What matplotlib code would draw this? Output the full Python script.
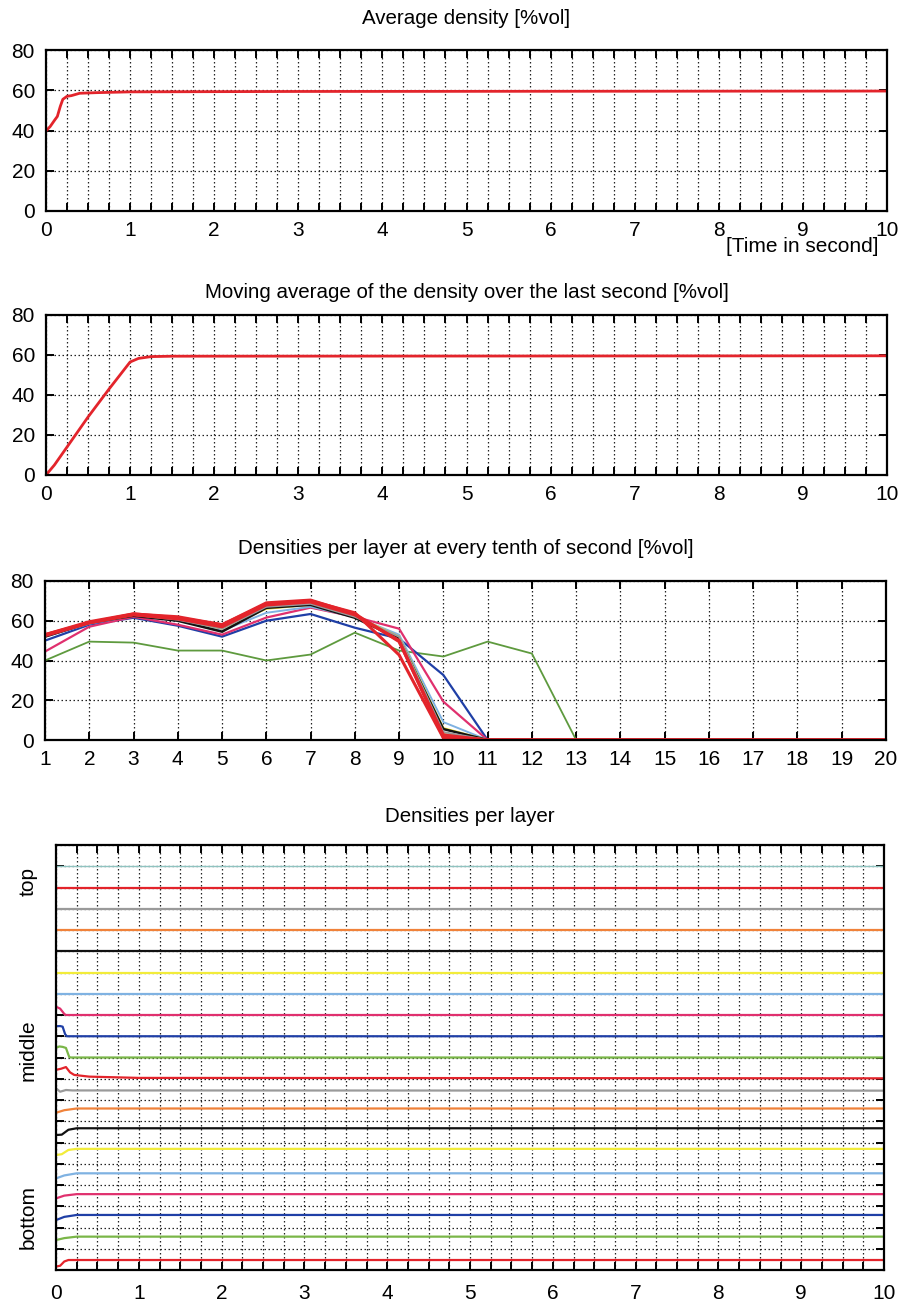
import numpy as np
import matplotlib
matplotlib.use('Agg')
import matplotlib.pyplot as plt
from matplotlib.ticker import MultipleLocator, NullFormatter

plt.rcParams['font.family'] = ['Liberation Sans', 'DejaVu Sans']
plt.rcParams['font.size'] = 15

# --- panel 1: average density
avg_t = [0, 0.05, 0.1, 0.135, 0.17, 0.2, 0.25, 0.3, 0.4, 0.6, 1.0, 3.0, 10.0]
avg_d = [39.8, 42, 45, 47, 52, 55.5, 57, 57.3, 58.5, 58.8, 59.2, 59.4, 59.6]

# --- panel 2: moving average over the last second
mov_t = [0, 0.1, 0.25, 0.5, 0.75, 1.0, 1.1, 1.25, 1.5, 10.0]
mov_d = [0, 5, 14, 29, 43, 56.5, 58.3, 59.2, 59.4, 59.6]

# --- panel 3: densities per layer, snapshots every tenth of second
layers = list(range(1, 21))
snap_colors = ['#5e9a3e', '#1f3fa6', '#e0306e', '#7fb2e2', '#e8df30',
               '#111111', '#f0823a', '#9a9a9a', '#e3242b', '#e3242b', '#e3242b']
snap_widths = [1.3, 1.6, 1.6, 1.4, 1.4, 1.8, 1.6, 1.4, 2.2, 2.2, 2.4]
snapshots = [
    [40, 49.5, 49, 45, 45, 40, 43, 54, 45, 42, 49.5, 43.5, 0, 0, 0, 0, 0, 0, 0, 0],
    [50, 58, 61.5, 57.5, 52, 60, 63.4, 56.5, 51, 32.7, 0, 0, 0, 0, 0, 0, 0, 0, 0, 0],
    [44.5, 57, 62, 58, 53, 61.6, 66.6, 62, 56, 19.3, 0, 0, 0, 0, 0, 0, 0, 0, 0, 0],
    [52, 58.5, 62.5, 60, 55, 64, 67, 62, 53, 9, 0, 0, 0, 0, 0, 0, 0, 0, 0, 0],
    [52.5, 59, 63, 60.5, 56, 66, 68, 62.5, 52, 6, 0, 0, 0, 0, 0, 0, 0, 0, 0, 0],
    [52, 59, 62.5, 60, 54.5, 66.5, 68, 61.5, 51, 5.5, 0, 0, 0, 0, 0, 0, 0, 0, 0, 0],
    [53, 59, 63, 61, 57, 68, 69, 63, 50, 3, 0, 0, 0, 0, 0, 0, 0, 0, 0, 0],
    [52.5, 59, 63, 60.5, 56, 67, 68.5, 62, 52, 4, 0, 0, 0, 0, 0, 0, 0, 0, 0, 0],
    [53, 59.5, 63.5, 61.5, 58, 68.5, 70, 64, 42.8, 1, 0, 0, 0, 0, 0, 0, 0, 0, 0, 0],
    [53, 59, 63.4, 62, 58, 69, 70.4, 63.5, 49.5, 2.5, 0, 0, 0, 0, 0, 0, 0, 0, 0, 0],
    [52.5, 59, 63, 61, 57, 68, 69.5, 63, 50, 1.5, 0, 0, 0, 0, 0, 0, 0, 0, 0, 0],
]

# --- panel 4: density of each layer (fraction) over time, layer 1 = bottom
layer_colors = ['#e3242b', '#7ab648', '#1f3fa6', '#e0306e', '#7fb2e2', '#f2ec3a',
                '#111111', '#f0823a', '#9a9a9a', '#e3242b', '#7ab648', '#1f3fa6',
                '#e0306e', '#7fb2e2', '#f2ec3a', '#111111', '#f0823a', '#9a9a9a',
                '#e3242b', '#8fc3c0']
layer_t = [
    [0, 0.05, 0.1, 0.15, 10],
    [0, 0.1, 0.25, 10],
    [0, 0.1, 0.25, 10],
    [0, 0.1, 0.25, 10],
    [0, 0.1, 0.25, 10],
    [0, 0.07, 0.15, 0.25, 10],
    [0, 0.07, 0.15, 0.25, 10],
    [0, 0.1, 0.25, 10],
    [0, 0.05, 0.12, 0.2, 10],
    [0, 0.06, 0.12, 0.17, 0.22, 0.4, 1.0, 10],
    [0, 0.04, 0.08, 0.12, 0.16, 0.18, 10],
    [0, 0.05, 0.08, 0.11, 0.13, 10],
    [0, 0.05, 0.1, 0.12, 10],
    [0, 10], [0, 10], [0, 10], [0, 10], [0, 10], [0, 10], [0, 10],
]
layer_d = [
    [0.16, 0.2, 0.4, 0.47, 0.47],
    [0.41, 0.5, 0.57, 0.57],
    [0.35, 0.5, 0.59, 0.59],
    [0.37, 0.5, 0.57, 0.57],
    [0.31, 0.45, 0.55, 0.55],
    [0.41, 0.45, 0.65, 0.7, 0.7],
    [0.35, 0.37, 0.6, 0.67, 0.67],
    [0.4, 0.52, 0.6, 0.6],
    [0.55, 0.39, 0.47, 0.45, 0.44],
    [0.42, 0.47, 0.55, 0.3, 0.18, 0.1, 0.04, 0.02],
    [0.45, 0.52, 0.5, 0.45, 0.02, 0, 0],
    [0.47, 0.48, 0.45, 0.1, 0, 0],
    [0.39, 0.3, 0.05, 0, 0],
    [0, 0], [0, 0], [0, 0], [0, 0], [0, 0], [0, 0], [0, 0],
]

W, H = 899, 1303
fig = plt.figure(figsize=(W / 100, H / 100), dpi=100)


def rect(left, top, right, bottom):
    return [left / W, 1 - bottom / H, (right - left) / W, (bottom - top) / H]


grid_kw = dict(color='#222222', linewidth=0.9, linestyle=(0, (1.2, 2.0)))


def style(ax, minor_x=True):
    for s in ax.spines.values():
        s.set_linewidth(1.6)
    ax.tick_params(which='both', direction='in', top=True, right=True,
                   length=6, width=1.4, labelsize=15)
    ax.tick_params(axis='x', which='both', pad=7)
    ax.tick_params(axis='y', which='both', pad=8)
    ax.grid(True, which='major', **grid_kw)
    if minor_x:
        ax.grid(True, which='minor', axis='x', **grid_kw)
    ax.set_axisbelow(True)


# panel 1
ax1 = fig.add_axes(rect(46, 50, 887, 211))
ax1.plot(avg_t, avg_d, color='#e3242b', lw=2.0)
ax1.set_xlim(0, 10)
ax1.set_ylim(0, 80)
ax1.xaxis.set_major_locator(MultipleLocator(1))
ax1.xaxis.set_minor_locator(MultipleLocator(0.25))
ax1.yaxis.set_major_locator(MultipleLocator(20))
style(ax1)
fig.text(466.5 / W, 1 - 19 / H, 'Average density [%vol]', ha='center', va='center', fontsize=14.8)
fig.text(878 / W, 1 - 247 / H, '[Time in second]', ha='right', va='center', fontsize=15)

# panel 2
ax2 = fig.add_axes(rect(46, 315, 887, 475))
ax2.plot(mov_t, mov_d, color='#e3242b', lw=2.0)
ax2.set_xlim(0, 10)
ax2.set_ylim(0, 80)
ax2.xaxis.set_major_locator(MultipleLocator(1))
ax2.xaxis.set_minor_locator(MultipleLocator(0.25))
ax2.yaxis.set_major_locator(MultipleLocator(20))
style(ax2)
fig.text(466.5 / W, 1 - 292 / H, 'Moving average of the density over the last second [%vol]',
         ha='center', va='center', fontsize=14.8)

# panel 3
ax3 = fig.add_axes(rect(45, 581, 886, 740))
for vals, c, lw in zip(snapshots, snap_colors, snap_widths):
    ax3.plot(layers, vals, color=c, lw=lw)
ax3.set_xlim(1, 20)
ax3.set_ylim(0, 80)
ax3.xaxis.set_major_locator(MultipleLocator(1))
ax3.yaxis.set_major_locator(MultipleLocator(20))
style(ax3, minor_x=False)
fig.text(465.5 / W, 1 - 548 / H, 'Densities per layer at every tenth of second [%vol]',
         ha='center', va='center', fontsize=14.8)

# panel 4
ax4 = fig.add_axes(rect(56, 845, 884, 1270))
for i, (tt, dd, c) in enumerate(zip(layer_t, layer_d, layer_colors)):
    lw = 1.0 if i == 19 else 1.6
    ax4.plot(tt, np.array(dd) + i, color=c, lw=lw)
ax4.set_xlim(0, 10)
ax4.set_ylim(0, 20)
ax4.xaxis.set_major_locator(MultipleLocator(1))
ax4.xaxis.set_minor_locator(MultipleLocator(0.25))
ax4.yaxis.set_major_locator(MultipleLocator(1))
ax4.yaxis.set_major_formatter(NullFormatter())
style(ax4)
ax4.tick_params(axis='x', which='both', pad=10)
fig.text(470 / W, 1 - 816 / H, 'Densities per layer', ha='center', va='center', fontsize=14.8)
for label, y in [('top', 882), ('middle', 1050), ('bottom', 1217)]:
    fig.text(28 / W, 1 - y / H, label, rotation=90, ha='center', va='center', fontsize=15)

fig.savefig('out.png', dpi=100)
